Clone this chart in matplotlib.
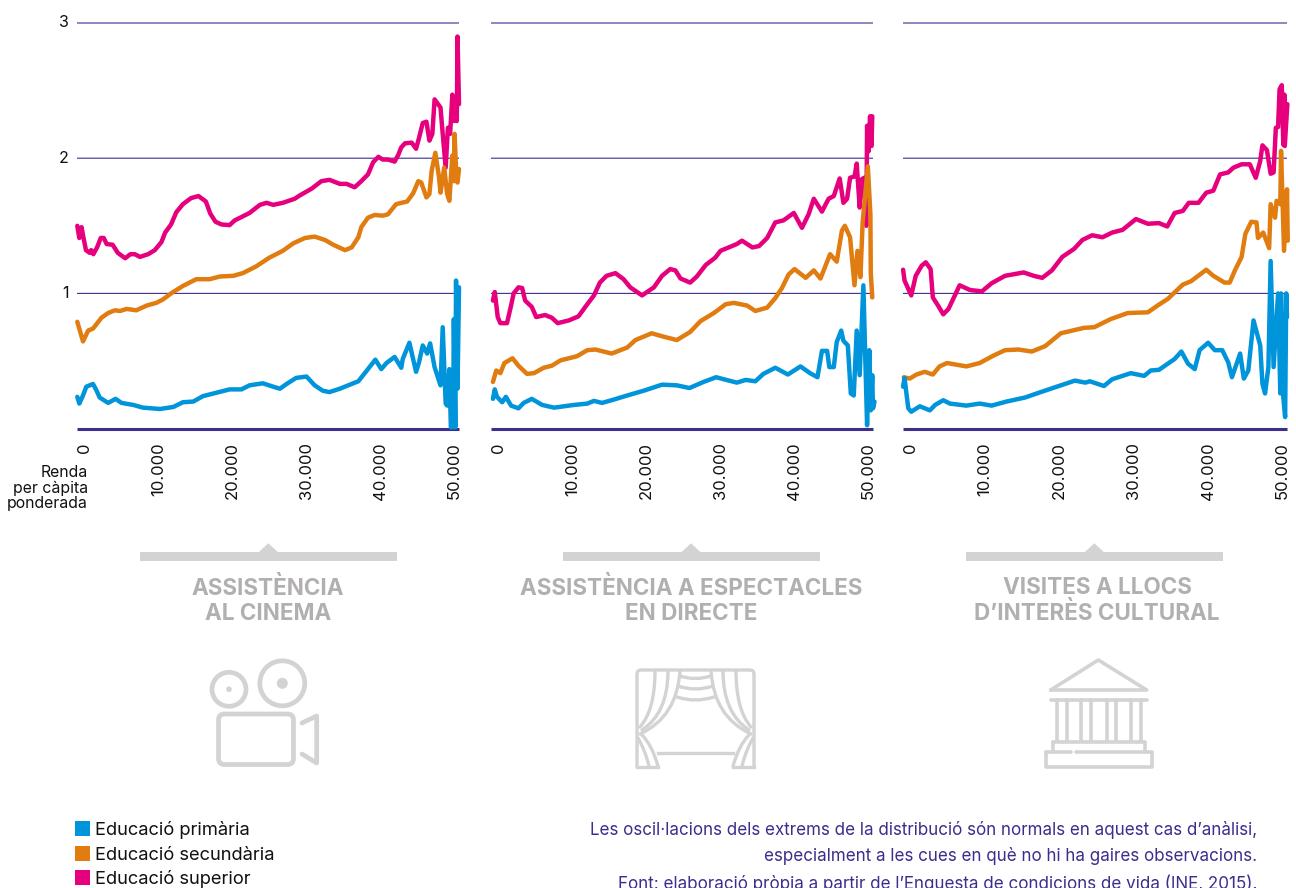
import matplotlib
matplotlib.use('Agg')
import matplotlib.pyplot as plt
from matplotlib.patches import Circle, FancyBboxPatch, PathPatch, Polygon, Rectangle
from matplotlib.path import Path
from matplotlib.transforms import ScaledTranslation

plt.rcParams['font.family'] = ['Inter', 'DejaVu Sans']

# x in thousands of euros, y
x_cine_sup = [-0.77,-0.5,-0.2,0,0.4,0.9,1.1,1.4,1.9,2.4,2.8,3.2,4,4.7,5.7,6.4,7,7.7,8.8,9.7,10.6,11.1,11.9,12.6,13.5,14.6,15.6,16.6,17.2,17.9,18.7,19.8,20.5,21.6,22.5,23.9,24.8,25.7,27,28.6,29.3,30.9,32.2,33.3,34.7,35.6,36.7,37.6,38.5,39.2,39.9,40.5,41.2,42.1,42.6,43,43.5,44.4,45,45.4,45.9,46.4,46.8,47.2,47.5,48.3,48.6,49,49.3,49.6,49.9,50.1,50.3,50.5,50.6,50.8]
y_cine_sup = [1.5,1.41,1.49,1.43,1.32,1.3,1.32,1.29,1.34,1.41,1.41,1.365,1.36,1.3,1.26,1.29,1.29,1.27,1.29,1.32,1.38,1.45,1.51,1.6,1.66,1.705,1.72,1.68,1.59,1.53,1.51,1.505,1.54,1.57,1.595,1.655,1.67,1.655,1.67,1.7,1.725,1.775,1.83,1.84,1.81,1.81,1.785,1.83,1.88,1.97,2.01,1.99,1.99,1.975,2.025,2.08,2.11,2.115,2.07,2.15,2.26,2.27,2.13,2.18,2.435,2.375,2.18,1.93,2.225,2.18,2.47,2.275,2.45,2.275,2.9,2.4]
x_cine_sec = [-0.77,0,0.7,1.35,2.5,3.4,4.3,5,5.9,7.2,8.6,9.9,10.8,11.9,13.5,15.3,17.1,18.5,20.3,21.6,23.4,25.2,27,28.4,30,31.3,32.7,33.8,35.4,36.3,37.2,37.6,38.5,39.4,40.5,41.2,42.3,43.8,44.6,45.3,45.7,46.4,46.8,47.1,47.6,48.1,48.3,48.8,49.2,49.5,49.9,50.1,50.2,50.45,50.6,50.8]
y_cine_sec = [0.79,0.645,0.725,0.74,0.82,0.855,0.875,0.87,0.885,0.875,0.91,0.93,0.955,1.0,1.055,1.105,1.105,1.125,1.13,1.15,1.2,1.265,1.315,1.37,1.41,1.42,1.395,1.36,1.32,1.34,1.415,1.49,1.56,1.58,1.575,1.585,1.66,1.68,1.74,1.83,1.82,1.71,1.735,1.905,2.04,1.86,1.745,1.93,1.735,1.685,2.02,1.83,2.18,1.855,1.82,1.92]
x_cine_pri = [-0.77,-0.5,0,0.45,1.35,1.8,2.25,3.4,4.4,5.2,6.8,8.1,10.4,12.2,13.5,14.9,16.2,18,19.8,21.4,22.5,24.3,25.7,26.6,27.5,28.8,30.2,31.3,32.4,33.3,34.7,37.2,38.5,39.5,40.3,41,42.1,43,43.2,44.1,44.6,45,45.4,45.9,46.5,46.9,47.5,48.3,48.6,49,49.2,49.5,49.7,50,50.1,50.3,50.4,50.6,50.8]
y_cine_pri = [0.235,0.185,0.245,0.31,0.33,0.285,0.23,0.19,0.22,0.19,0.175,0.155,0.145,0.16,0.195,0.2,0.24,0.265,0.29,0.29,0.32,0.335,0.31,0.295,0.33,0.375,0.385,0.32,0.28,0.27,0.295,0.35,0.44,0.51,0.44,0.485,0.53,0.45,0.515,0.635,0.515,0.42,0.49,0.615,0.555,0.63,0.455,0.32,0.75,0.185,0.17,0.44,0.01,0.01,0.81,0.01,1.095,0.295,1.045]

x_esp_sup = [-0.55,-0.3,0.1,0.45,1.35,1.9,2.25,2.9,3.4,3.8,4.7,5.3,6.5,7.4,8.2,9.7,11,12.2,13.1,13.9,14.8,16,17.1,18,19.6,21.2,22.3,23.4,24.1,24.8,26.1,27,28.2,29.5,30.2,32.4,33.1,34.5,35.4,36.5,37.6,38.7,40.1,41.2,42.1,42.8,43.9,44.8,45.5,46.3,46.8,47.3,47.7,48.3,48.6,49,49.3,49.6,49.9,50,50.2,50.4,50.6,50.7]
y_esp_sup = [0.947,1.01,0.825,0.78,0.78,0.91,1.0,1.045,1.04,0.947,0.9,0.825,0.84,0.82,0.78,0.8,0.83,0.92,0.985,1.08,1.13,1.15,1.105,1.045,0.985,1.045,1.13,1.18,1.17,1.11,1.08,1.125,1.21,1.265,1.315,1.365,1.39,1.34,1.35,1.41,1.525,1.54,1.595,1.485,1.585,1.7,1.605,1.7,1.72,1.85,1.67,1.7,1.855,1.865,1.96,1.635,1.845,1.855,1.5,2.24,2.05,2.31,2.09,2.31]
x_esp_sec = [-0.55,-0.1,0.45,1,2.1,2.9,4.05,5,6.3,7.4,8.6,10.8,12.2,13.3,15.5,17.6,18.7,20.9,22.5,24.3,26.1,27.5,29.3,30.9,32,33.8,34.9,36.5,37.6,38.5,39.4,40.2,41.7,42.8,43.7,45,45.9,46.6,47,47.7,48.3,48.7,49.1,49.4,50.1,50.45,50.5,50.7]
y_esp_sec = [0.345,0.43,0.41,0.485,0.52,0.465,0.405,0.41,0.45,0.465,0.505,0.535,0.58,0.585,0.555,0.6,0.655,0.705,0.68,0.655,0.715,0.795,0.855,0.92,0.93,0.91,0.87,0.895,0.965,1.04,1.14,1.18,1.115,1.17,1.11,1.29,1.235,1.465,1.5,1.415,1.06,1.315,1.12,1.525,1.94,1.585,1.15,0.97]
x_esp_pri = [-0.55,-0.3,0,0.7,1.2,1.9,2.9,3.6,4.7,6.1,7.7,10.4,12.2,13.1,14.2,15.8,17.6,19.8,22.3,24.3,26,27.9,29.6,32.4,33.6,34.9,36,37.6,39.3,41,42.3,43.3,43.9,44.6,44.9,45.5,45.9,46.5,46.8,47.4,47.8,48.2,48.6,49,49.5,50,50.3,50.5,50.7,50.8,51]
y_esp_pri = [0.22,0.29,0.235,0.195,0.235,0.17,0.15,0.19,0.22,0.175,0.155,0.175,0.185,0.205,0.19,0.215,0.245,0.28,0.325,0.32,0.3,0.345,0.38,0.34,0.36,0.35,0.405,0.45,0.4,0.46,0.41,0.38,0.575,0.575,0.455,0.455,0.64,0.725,0.65,0.615,0.26,0.245,0.725,0.395,1.06,0.025,0.58,0.135,0.395,0.15,0.2]

x_vis_sup = [-0.8,-0.6,0.3,0.9,1.7,2.25,2.9,3.2,3.9,4.6,5.3,6.8,8.2,9.8,11.1,12.9,15.4,16.75,17.9,19.2,20.6,22.2,23.3,24.6,26,27.3,28.7,30.5,32.1,33.6,34.7,35.7,36.8,37.6,38.9,39.95,40.9,41.8,42.9,43.6,44.7,45.8,46.6,47.2,47.5,48.1,48.6,49,49.3,49.6,49.8,50.1,50.3,50.45,50.5,50.85]
y_vis_sup = [1.175,1.095,0.985,1.13,1.205,1.23,1.18,0.97,0.91,0.845,0.885,1.06,1.025,1.015,1.075,1.13,1.155,1.13,1.115,1.17,1.27,1.33,1.395,1.43,1.415,1.45,1.47,1.55,1.515,1.52,1.495,1.595,1.61,1.67,1.67,1.745,1.76,1.88,1.895,1.93,1.955,1.955,1.855,1.98,2.095,2.06,1.885,1.895,2.225,2.23,2.51,2.54,2.1,2.47,2.09,2.4]
x_vis_sec = [-0.7,0.1,1,2.1,3.2,4.1,5.1,7.7,9.5,11.35,12.9,14.7,16.5,18.3,20.4,23.5,24.9,27.1,29.4,32.1,33.4,34.8,36.8,37.9,39.95,40.9,42.4,43.1,43.8,44.7,45.2,46,46.7,46.9,47.6,48.4,48.6,49.2,49.4,49.9,50,50.4,50.8,50.9]
y_vis_sec = [0.38,0.37,0.4,0.42,0.4,0.46,0.485,0.46,0.485,0.54,0.58,0.585,0.57,0.61,0.705,0.745,0.75,0.81,0.855,0.86,0.91,0.96,1.065,1.09,1.175,1.13,1.08,1.08,1.17,1.27,1.44,1.53,1.525,1.41,1.45,1.335,1.66,1.56,1.685,1.66,2.055,1.315,1.77,1.39]
x_vis_pri = [-0.8,-0.6,-0.35,-0.1,0.3,1.45,2.8,3.5,4.6,5.5,7.7,9.5,11.1,13.1,15.6,17.7,20.4,22.3,23.7,24.3,26.2,27.3,29.8,31.6,32.5,33.6,35.7,36.6,37.5,38.4,39.05,40.2,41.1,42.1,42.9,43.4,44.5,45,45.6,46.3,47.2,47.5,47.85,48.3,48.6,49,49.6,49.9,50,50.3,50.55,50.7,50.8]
y_vis_pri = [0.31,0.375,0.26,0.15,0.125,0.165,0.135,0.175,0.21,0.185,0.17,0.185,0.17,0.2,0.23,0.27,0.32,0.355,0.34,0.35,0.315,0.365,0.41,0.39,0.43,0.435,0.515,0.57,0.48,0.44,0.58,0.635,0.58,0.58,0.49,0.38,0.555,0.37,0.43,0.8,0.615,0.33,0.26,0.455,1.24,0.455,1.0,0.26,1.0,0.235,0.085,1.0,0.825]

xticks = [0, 10, 20, 30, 40, 50]
xtick_labels = ['0', '10.000', '20.000', '30.000', '40.000', '50.000']
yticks = [1, 2, 3]
series_names = ['Educació primària', 'Educació secundària', 'Educació superior']
titles = ['ASSISTÈNCIA\nAL CINEMA', 'ASSISTÈNCIA A ESPECTACLES\nEN DIRECTE', 'VISITES A LLOCS\nD’INTERÈS CULTURAL']
notes = ['Les oscil·lacions dels extrems de la distribució són normals en aquest cas d’anàlisi,',
         'especialment a les cues en què no hi ha gaires observacions.',
         'Font: elaboració pròpia a partir de l’Enquesta de condicions de vida (INE, 2015).']

BLUE = '#0095da'
ORANGE = '#e07c10'
PINK = '#e6007e'
PURPLE = '#3b2e8c'
GREY = '#d4d3d4'
W, H = 1296, 888

fig = plt.figure(figsize=(W / 100, H / 100), dpi=100)

panels = [
    (77, 459, (x_cine_sup, y_cine_sup), (x_cine_sec, y_cine_sec), (x_cine_pri, y_cine_pri)),
    (491, 873, (x_esp_sup, y_esp_sup), (x_esp_sec, y_esp_sec), (x_esp_pri, y_esp_pri)),
    (903, 1287, (x_vis_sup, y_vis_sup), (x_vis_sec, y_vis_sec), (x_vis_pri, y_vis_pri)),
]
top, bottom = 23, 428.6
for i, (left, right, sup, sec, pri) in enumerate(panels):
    ax = fig.add_axes([left / W, 1 - bottom / H, (right - left) / W, (bottom - top) / H])
    ax.set_xlim(-0.81, 50.8)
    ax.set_ylim(0, 3)
    for v in yticks:
        gl = ax.axhline(v, color=PURPLE, lw=0.8, clip_on=False, zorder=1, solid_capstyle='butt')
        gl.set_snap(False)
    ax.axhline(0, color=PURPLE, lw=2.2, clip_on=False, zorder=1, solid_capstyle='butt')
    for (xs, ys), c in [(sup, PINK), (sec, ORANGE), (pri, BLUE)]:
        ax.plot(xs, ys, color=c, lw=3.2, clip_on=False, zorder=3,
                solid_joinstyle='round', solid_capstyle='round')
    for s in ax.spines.values():
        s.set_visible(False)
    ax.patch.set_alpha(0)
    ax.set_xticks(xticks)
    ax.set_xticklabels(xtick_labels, rotation=90, fontsize=12, va='top', ha='center')
    ax.tick_params(axis='x', length=0, pad=10, colors='#111111')
    ax.set_yticks(yticks if i == 0 else [])
    ax.tick_params(axis='y', length=0, pad=6, labelsize=11.5, colors='#111111')
    shift_x = ScaledTranslation(1.5 / 100, 0, fig.dpi_scale_trans)
    shift_y = ScaledTranslation(0, 1.5 / 100, fig.dpi_scale_trans)
    for lab in ax.get_xticklabels():
        lab.set_transform(lab.get_transform() + shift_x)
    for lab in ax.get_yticklabels():
        lab.set_transform(lab.get_transform() + shift_y)

# everything under the charts, in picture pixels
ov = fig.add_axes([0, 0, 1, 1])
ov.set_xlim(0, W)
ov.set_ylim(H, 0)
ov.axis('off')
ov.patch.set_alpha(0)

ov.text(88, 488, 'Renda\nper càpita\nponderada', ha='right', va='center', fontsize=11.4,
        color='#111111', linespacing=1.05)

bars = [(140, 268.3), (563, 691), (966, 1094.3)]
title_x = [268, 691, 1097]
for (bx, apex), tx, t in zip(bars, title_x, titles):
    ov.add_patch(Rectangle((bx, 552.3), 256.7, 8.4, fc=GREY, ec='none'))
    ov.add_patch(Polygon([(apex - 10, 552.5), (apex, 543.3), (apex + 10, 552.5)], fc=GREY, ec='none'))
    ov.text(tx, 601, t, ha='center', va='center', fontsize=16.2, fontweight='bold',
            color='#b2afb1', linespacing=1.22)

# camera icon
cam = dict(fc='none', ec=GREY, lw=3.4)
ov.add_patch(Circle((229, 689.3), 17, **cam))
ov.add_patch(Circle((282.3, 683.3), 22.5, **cam))
ov.add_patch(Circle((229, 689.3), 2.8, fc=GREY, ec='none'))
ov.add_patch(Circle((282.3, 683.3), 5.5, fc=GREY, ec='none'))
ov.add_patch(FancyBboxPatch((218.5, 714), 75, 50.5, boxstyle='round,pad=0,rounding_size=6', **cam))
ov.plot([302, 316.7, 316.7, 302], [723, 716, 763, 754], color=GREY, lw=3.4,
        solid_joinstyle='round', solid_capstyle='round')


def stroke(verts, codes, lw=2.4):
    ov.add_patch(PathPatch(Path(verts, codes), fc='none', ec=GREY, lw=lw,
                           capstyle='round', joinstyle='round'))


def curve(p0, c, p1, lw=2.4):
    stroke([p0, c, p1], [Path.MOVETO, Path.CURVE3, Path.CURVE3], lw)


# curtain icon
M, L, C = Path.MOVETO, Path.LINETO, Path.CURVE3
stroke([(637, 767), (637, 674), (637, 670), (641, 670), (750, 670), (754, 670), (754, 674), (754, 767)],
       [M, L, C, C, L, C, C, L])
ov.plot([658, 733], [753, 753], color=GREY, lw=2.4)
for flip in [False, True]:
    fx = (lambda p: (1391 - p[0], p[1])) if flip else (lambda p: p)
    curve(fx((680, 671)), fx((677, 717)), fx((640, 734)))
    curve(fx((668, 671)), fx((668, 713)), fx((642, 730)))
    curve(fx((655, 671)), fx((655, 710)), fx((640, 727)))
    curve(fx((642, 735)), fx((652, 745)), fx((658, 766)))
    curve(fx((638, 738)), fx((645, 750)), fx((649, 766)))
    ov.plot([fx((637, 767))[0], fx((658, 767))[0]], [767, 767], color=GREY, lw=2.4)
curve((680, 676), (695, 681), (711, 676))
curve((678, 686), (695, 692), (713, 686))
curve((677, 697), (695, 703), (714, 697))

# temple icon
tl = dict(color=GREY, lw=2.6, solid_joinstyle='round', solid_capstyle='round')
ov.plot([1050.7, 1098.3, 1146.7, 1050.7], [690, 660, 690, 690], **tl)
ov.plot([1050.7, 1146.7], [700, 700], **tl)
for cx in [1056.7, 1066.7, 1080.7, 1090.7, 1106.7, 1116, 1130.7, 1140.7]:
    ov.plot([cx, cx], [700, 741], **tl)
ov.plot([1053, 1145, 1145], [741.7, 741.7, 752], **tl)
ov.plot([1053, 1053], [741.7, 752], **tl)
ov.plot([1046, 1071], [752, 752], **tl)
ov.plot([1076, 1151.7, 1151.7, 1046, 1046], [752, 752, 766.5, 766.5, 752], **tl)

# legend
for y, c, name in zip([821, 846, 870], [BLUE, ORANGE, PINK], series_names):
    ov.add_patch(Rectangle((75, y), 15, 15, fc=c, ec='none'))
    ov.text(95, y + 9, name, ha='left', va='center', fontsize=13.2, color='#111111')

for y, t in zip([829.5, 856, 883.5], notes):
    ov.text(1257, y, t, ha='right', va='center', fontsize=12.25, color=PURPLE)

fig.savefig('out.png', dpi=100)
